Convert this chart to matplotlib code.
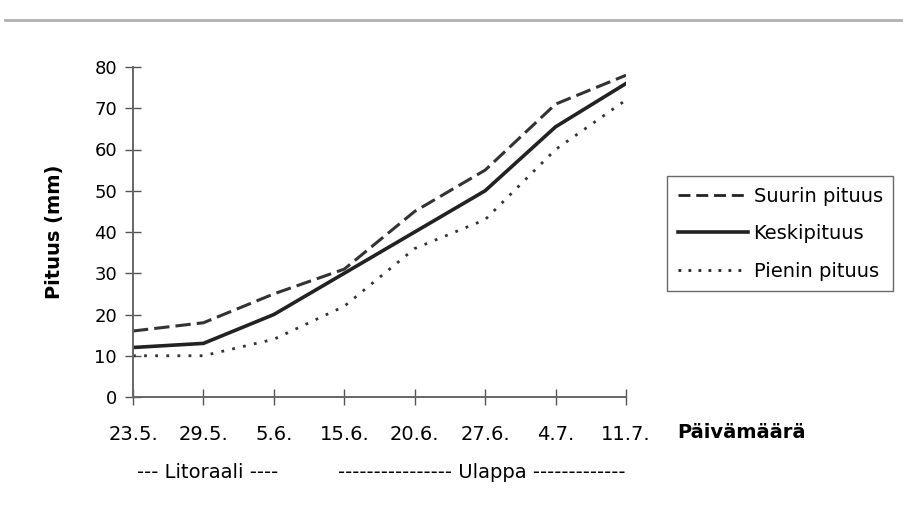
import numpy as np
import matplotlib
matplotlib.use("Agg")
import matplotlib.pyplot as plt
from matplotlib.lines import Line2D

# values
dates = ["23.5.", "29.5.", "5.6.", "15.6.", "20.6.", "27.6.", "4.7.", "11.7."]
suurin = [16, 18, 25, 31, 45, 55, 71, 78]
keski = [12, 13, 20, 30, 40, 50, 65.5, 76]
pienin = [10, 10, 14, 22, 36, 43, 60, 72]
names = ['Suurin pituus', 'Keskipituus', 'Pienin pituus']

plt.rcParams['font.family'] = ['DejaVu Sans']

W, H = 904, 522
fig = plt.figure(figsize=(W / 100, H / 100), dpi=100)
ax = fig.add_axes([133 / W, 1 - 397 / H, 493 / W, 330 / H])

X = np.arange(len(dates))
ax.plot(X, suurin, color='#333333', lw=2.2, dashes=(5, 2))
ax.plot(X, keski, color='#222222', lw=2.6)
ax.plot(X, pienin, color='#333333', lw=2.0, dashes=(1, 3))

ax.set_xlim(0, len(dates) - 1)
ax.set_ylim(0, 80)
ax.set_yticks(range(0, 81, 10))
ax.set_xticks(X)
ax.set_xticklabels(dates)
ax.tick_params(axis='both', direction='inout', length=11, width=1, color='#555555')
ax.tick_params(axis='x', pad=15, labelsize=14)
ax.tick_params(axis='y', pad=6, labelsize=13)
for s in ['top', 'right']:
    ax.spines[s].set_visible(False)
for s in ['left', 'bottom']:
    ax.spines[s].set_color('#666666')
    ax.spines[s].set_linewidth(1.4)

ax.set_ylabel('Pituus (mm)', fontsize=14, fontweight='bold')
ax.yaxis.set_label_coords(64 / W, 1 - 232 / H, transform=fig.transFigure)

fig.text(677 / W, 1 - 433 / H, 'Päivämäärä', fontsize=14, fontweight='bold',
         va='center', ha='left')
fig.text(208 / W, 1 - 472 / H, '--- Litoraali ----', fontsize=14,
         va='center', ha='center')
fig.text(482 / W, 1 - 472 / H, '-' * 16 + ' Ulappa ' + '-' * 13,
         fontsize=14, va='center', ha='center')

handles = [
    Line2D([], [], color='#222222', lw=2.0, dashes=(4.3, 2.1)),
    Line2D([], [], color='#222222', lw=2.6),
    Line2D([], [], color='#222222', lw=2.0, dashes=(1, 2.6)),
]
leg = fig.legend(handles, names,
                 loc='upper left', bbox_to_anchor=(667 / W, 1 - 176 / H),
                 fontsize=14, frameon=True, fancybox=False, handlelength=3.6,
                 handletextpad=0.3, borderpad=0.55, labelspacing=0.95,
                 borderaxespad=0)
leg.get_frame().set_edgecolor('#444444')
leg.get_frame().set_linewidth(1.0)

# gray rule at the top of the scanned page
fig.add_artist(Line2D([5 / W, 1], [1 - 20 / H, 1 - 20 / H], color='#b0b0b0', lw=2))

fig.savefig('out.png', dpi=100)
